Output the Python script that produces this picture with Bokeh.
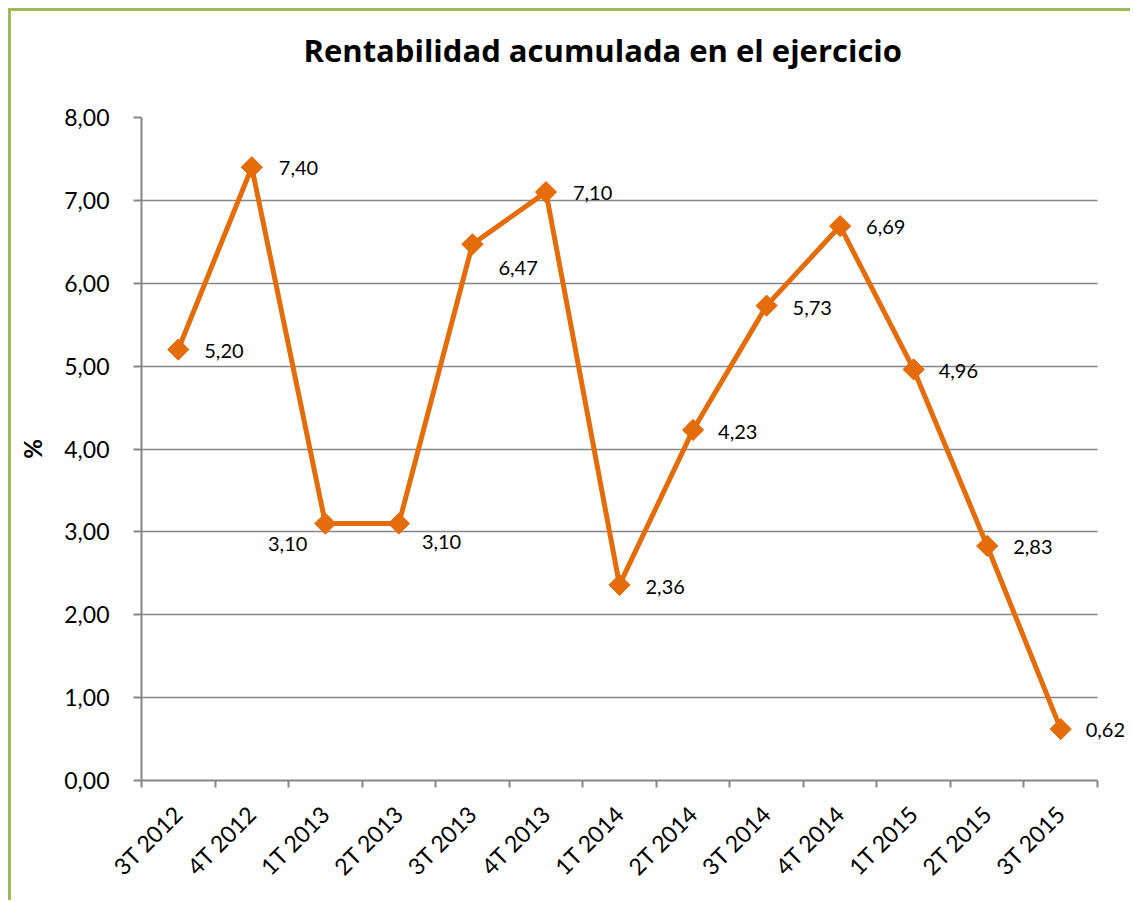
from bokeh.plotting import figure
from bokeh.models import ColumnDataSource, FixedTicker, Range1d, Title, LabelSet
from bokeh.core.properties import value
from bokeh.embed import file_html
from bokeh.resources import INLINE

# ---- data ----
categories = ["3T 2012", "4T 2012", "1T 2013", "2T 2013", "3T 2013", "4T 2013", "1T 2014",
              "2T 2014", "3T 2014", "4T 2014", "1T 2015", "2T 2015", "3T 2015"]
values = [5.20, 7.40, 3.10, 3.10, 6.47, 7.10, 2.36, 4.23, 5.73, 6.69, 4.96, 2.83, 0.62]
y_ticks = [0, 1, 2, 3, 4, 5, 6, 7, 8]
y_tick_labels = ["0,00", "1,00", "2,00", "3,00", "4,00", "5,00", "6,00", "7,00", "8,00"]
title_text = "Rentabilidad acumulada en el ejercicio"
y_title = "%"

# ---- label placement (style, screen px; dy positive = downward) ----
label_dx = [26, 27, -18, 23, 26, 27, 26, 25, 26, 26, 25, 26, 25]
label_dy = [1, 1, 20, 18, 24, 1, 2, 2, 2, 1, 2, 1, 1]
label_align = ["left", "left", "right", "left", "left", "left", "left", "left",
               "left", "left", "left", "left", "left"]

FONT = "Lato"
ORANGE = "#E46C0A"
GRAY = "#868686"

n = len(categories)
AXIS_W = 956          # pixel width of the category axis
FRAME_W = 989         # frame extended to the right so the last data label is not clipped
x_end = n * FRAME_W / AXIS_W

xs = [i + 0.5 for i in range(n)]
labels = [f"{v:.2f}".replace(".", ",") for v in values]
src = ColumnDataSource(dict(x=xs, y=values, lab=labels, dx=label_dx,
                            dy=[-d for d in label_dy], al=label_align))

p = figure(frame_width=FRAME_W, frame_height=663,
           min_border_left=130, min_border_right=0, min_border_top=60, min_border_bottom=120,
           x_range=Range1d(0, x_end), y_range=Range1d(0, 8),
           output_backend="svg", toolbar_location=None, tools="")
p.styles = {"margin-left": "8px", "margin-top": "8px",
            "border-left": "3px solid #9BBB59", "border-top": "3px solid #9BBB59"}
p.outline_line_color = None
p.background_fill_color = "white"

# spacer panel between title and frame, then the title itself
p.add_layout(Title(text=" ", text_font_size="1px", standoff=28), "above")
p.add_layout(Title(text=title_text, align="left", offset=162, text_font="Open Sans",
                   text_font_size="31px", text_font_style="bold", text_color="black",
                   standoff=31), "above")

# x axis: labels at category centers, ticks at category boundaries
p.xaxis.bounds = (0, n)
p.xaxis.ticker = FixedTicker(ticks=xs, minor_ticks=list(range(n + 1)))
p.xaxis.major_label_overrides = {x: c for x, c in zip(xs, categories)}
p.xaxis.major_label_orientation = 0.785398
p.xaxis.major_tick_line_color = None
p.xaxis.minor_tick_line_color = GRAY
p.xaxis.minor_tick_line_width = 2
p.xaxis.minor_tick_out = 7
p.xaxis.minor_tick_in = 0
p.xaxis.axis_line_color = GRAY
p.xaxis.axis_line_width = 2
p.xaxis.major_label_text_font = FONT
p.xaxis.major_label_text_font_size = "23px"
p.xaxis.major_label_text_color = "black"
p.xaxis.major_label_standoff = 22

p.yaxis.ticker = FixedTicker(ticks=y_ticks)
p.yaxis.major_label_overrides = {t_: l for t_, l in zip(y_ticks, y_tick_labels)}
p.yaxis.minor_tick_line_color = None
p.yaxis.major_tick_line_color = GRAY
p.yaxis.major_tick_line_width = 2
p.yaxis.major_tick_out = 8
p.yaxis.major_tick_in = 0
p.yaxis.axis_line_color = GRAY
p.yaxis.axis_line_width = 2
p.yaxis.major_label_text_font = FONT
p.yaxis.major_label_text_font_size = "23px"
p.yaxis.major_label_text_color = "black"
p.yaxis.major_label_standoff = 24
p.yaxis.axis_label = y_title
p.yaxis.axis_label_text_font = FONT
p.yaxis.axis_label_text_font_size = "24px"
p.yaxis.axis_label_text_font_style = "bold"
p.yaxis.axis_label_text_color = "black"
p.yaxis.axis_label_standoff = 14

p.xgrid.grid_line_color = None
p.ygrid.ticker = FixedTicker(ticks=y_ticks)
p.ygrid.grid_line_color = GRAY
p.ygrid.grid_line_width = 1.5

# white cover for the grid beyond the last category
p.quad(left=[n], right=[x_end + 1], bottom=[-1], top=[9], fill_color="white", line_color=None)

p.line("x", "y", source=src, line_color=ORANGE, line_width=5, line_join="round")
p.scatter("x", "y", source=src, marker="square", angle=0.785398, size=15,
          fill_color=ORANGE, line_color=ORANGE)
p.add_layout(LabelSet(x="x", y="y", text="lab", source=src, x_offset="dx", y_offset="dy",
                      text_align="al", text_baseline="middle", text_font=value(FONT),
                      text_font_size="20px", text_color="black"))

open("out.html", "w").write(file_html(p, INLINE))
